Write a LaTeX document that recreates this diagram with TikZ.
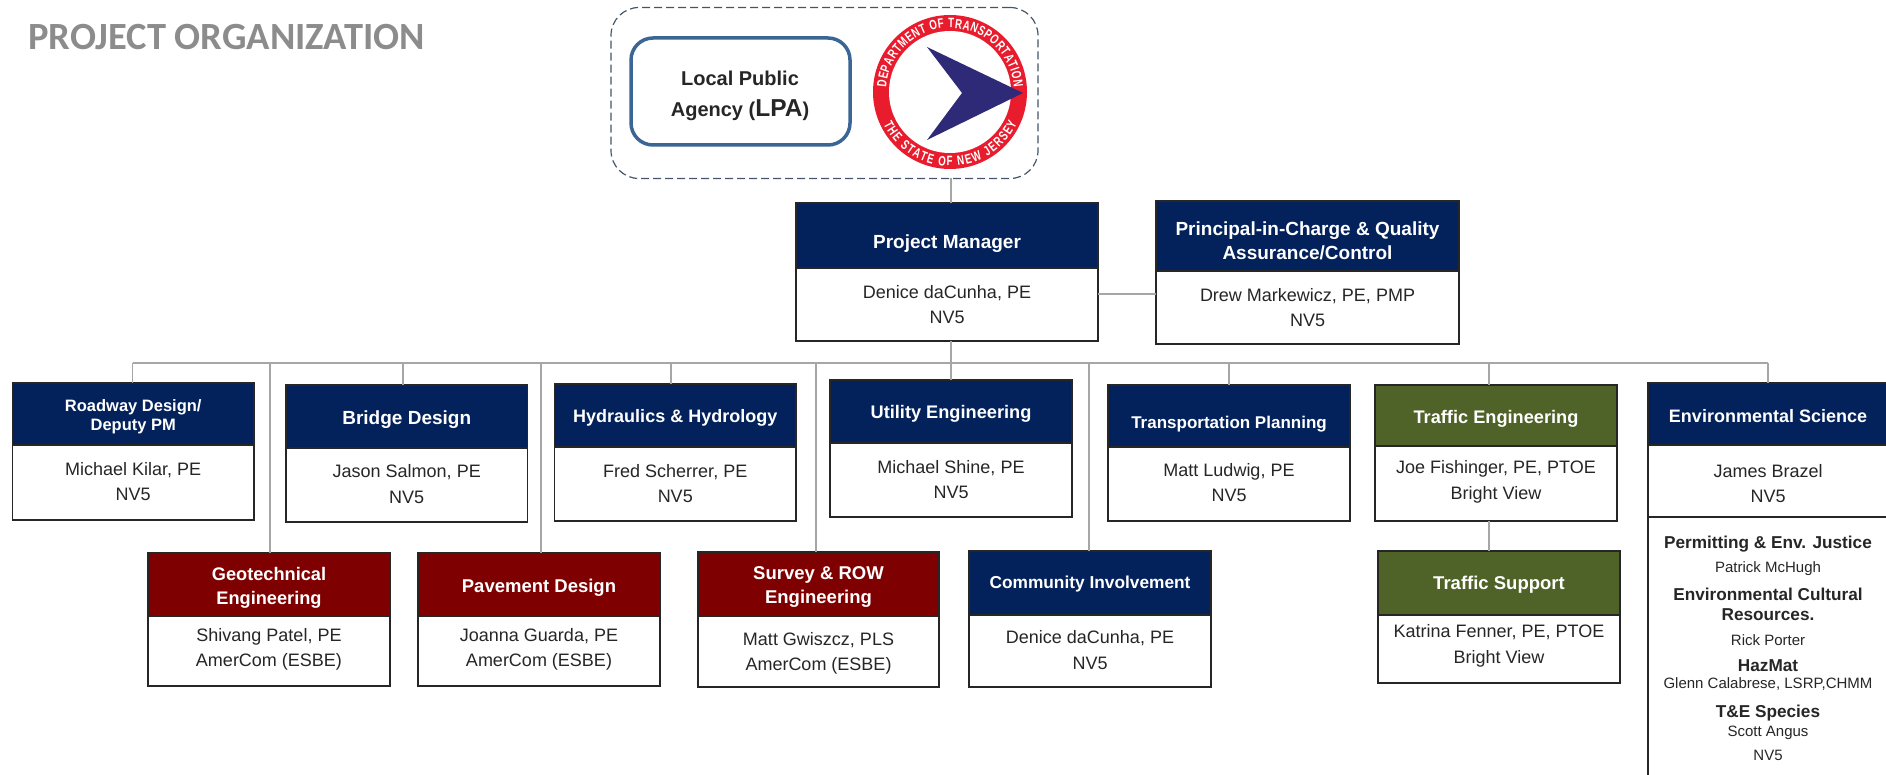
\documentclass[tikz,border=0pt]{standalone}
\usepackage{fontspec}
\setmainfont{Liberation Sans}
\newfontfamily\carlitofont{Carlito}
\newfontfamily\ringfont[FakeStretch=0.72]{Liberation Sans Bold}
\usetikzlibrary{decorations.text,calc}
\definecolor{navyh}{HTML}{03215B}
\definecolor{maroonh}{HTML}{7F0000}
\definecolor{oliveh}{HTML}{4F6228}
\definecolor{connc}{HTML}{A6A6A6}
\definecolor{edgec}{HTML}{262626}
\definecolor{bodyc}{HTML}{262626}
\definecolor{lpab}{HTML}{3A6594}
\definecolor{dashc}{HTML}{44546A}
\definecolor{ringr}{HTML}{E81C2D}
\definecolor{arrowb}{HTML}{2E2A78}
\tikzset{
  hdrbox/.style={draw=edgec,line width=1.1pt,fill=#1,inner sep=0pt,outer sep=0pt},
  bodybox/.style={draw=edgec,line width=1.1pt,fill=white,inner sep=0pt,outer sep=0pt},
  conn/.style={draw=connc,line width=1.5pt},
  ttl/.style={text=white,align=center,inner sep=0pt,font=\bfseries},
  bodytxt/.style={text=bodyc,align=center,inner sep=0pt},
  envb/.style={text=bodyc,inner sep=0pt,font=\bfseries\fontsize{17.2}{20}\selectfont},
  envr/.style={text=bodyc,inner sep=0pt,font=\fontsize{15}{18}\selectfont}
}
% name x0 x1 ytop ymid ybot colour
\newcommand{\orgbox}[7]{%
  \node[bodybox,minimum width={(#3-#2)*1pt},minimum height={(#6-#5)*1pt}] (#1-b) at ({(#2+#3)/2},{(#5+#6)/2}) {};
  \node[hdrbox=#7,minimum width={(#3-#2)*1pt},minimum height={(#5-#4)*1pt}] (#1-h) at ({(#2+#3)/2},{(#4+#5)/2}) {};
}
% name size lead y text
\newcommand{\orgttl}[5]{%
  \node[ttl,font=\bfseries\fontsize{#2}{#3}\selectfont] (#1-t) at (#1-h.center |- 0,#4) {#5};
}
% name y lead text
\newcommand{\orgtxt}[4]{%
  \node[bodytxt,font=\fontsize{18}{#3}\selectfont] (#1-n) at (#1-b.center |- 0,#2) {#4};
}
\begin{document}
\begin{tikzpicture}[x=1pt,y=-1pt]
\useasboundingbox (0,0) rectangle (1886,775);
\clip (0,0) rectangle (1886,775);
\node[anchor=west,inner sep=0pt,text=black!45,font=\carlitofont\bfseries\fontsize{38.5}{44}\selectfont] (pagetitle) at (28,37) {PROJECT ORGANIZATION};
% LPA group
\node[draw=dashc,line width=1.2pt,dash pattern=on 8pt off 4pt,rounded corners=28pt,minimum width=427pt,minimum height=171pt,inner sep=0pt,outer sep=0pt] (lpg) at (824.5,93) {};
\node[draw=lpab,line width=3.5pt,rounded corners=22pt,minimum width=219pt,minimum height=107pt,inner sep=0pt,outer sep=0pt] (lpa) at (740.5,91.5) {};
\node[align=center,text=bodyc,inner sep=0pt,font=\bfseries\fontsize{20}{31}\selectfont] (lpat) at (740,96) {Local Public\\Agency ({\fontsize{24.5}{31}\selectfont LPA})};
% logo
\begin{scope}[shift={(950,92)},y=1pt]
  \fill[ringr] (0,0) circle (77);
  \fill[white] (0,0) circle (61);
  \fill[arrowb] (-23,45) -- (73,-1) -- (-23,-48) -- (12,-1) -- cycle;
  \path[decorate,decoration={text along path,text align={fit to path},text={|\color{white}\ringfont\fontsize{13.5}{15}\selectfont|DEPARTMENT OF TRANSPORTATION}}] (176:64) arc[start angle=176,end angle=4,radius=64];
  \path[decorate,decoration={text along path,text align={fit to path},text={|\color{white}\ringfont\fontsize{13.5}{15}\selectfont|THE STATE OF NEW JERSEY}}] (206:74) arc[start angle=206,end angle=335,radius=74];
\end{scope}
% boxes
\orgbox{pm}{796}{1098}{203}{268}{341}{navyh}
\orgttl{pm}{19}{24}{244}{Project Manager}
\orgtxt{pm}{304.5}{25}{Denice daCunha, PE\\NV5}
\orgbox{pic}{1156}{1459}{201}{271}{344}{navyh}
\orgttl{pic}{19}{24}{240.5}{Principal-in-Charge \& Quality\\Assurance/Control}
\orgtxt{pic}{307.5}{25}{Drew Markewicz, PE, PMP\\NV5}
\orgbox{rd}{12.5}{254}{383}{445}{520}{navyh}
\orgttl{rd}{16.5}{19}{417}{Roadway Design/\\Deputy PM}
\orgtxt{rd}{482}{25}{Michael Kilar, PE\\NV5}
\orgbox{br}{286}{527.5}{385}{448}{522}{navyh}
\orgttl{br}{19}{24}{420}{Bridge Design}
\orgtxt{br}{484.5}{26}{Jason Salmon, PE\\NV5}
\orgbox{hy}{554.5}{796}{384}{447}{521}{navyh}
\orgttl{hy}{18}{24}{417.5}{Hydraulics \& Hydrology}
\orgtxt{hy}{483.5}{25}{Fred Scherrer, PE\\NV5}
\orgbox{ut}{830}{1072}{380}{443}{517}{navyh}
\orgttl{ut}{18.2}{24}{413.5}{Utility Engineering}
\orgtxt{ut}{480}{25}{Michael Shine, PE\\NV5}
\orgbox{tp}{1108}{1350}{385}{447}{521}{navyh}
\orgttl{tp}{17}{24}{424}{Transportation Planning}
\orgtxt{tp}{482.5}{25}{Matt Ludwig, PE\\NV5}
\orgbox{te}{1375}{1617}{385}{446}{521}{oliveh}
\orgttl{te}{18.2}{24}{418.5}{Traffic Engineering}
\orgtxt{te}{482}{26}{Joe Fishinger, PE, PTOE\\Bright View}
\orgbox{geo}{148}{390}{553}{616}{686}{maroonh}
\orgttl{geo}{18.2}{24}{588}{Geotechnical\\Engineering}
\orgtxt{geo}{649.5}{25}{Shivang Patel, PE\\AmerCom (ESBE)}
\orgbox{pav}{418}{660}{553}{616}{686}{maroonh}
\orgttl{pav}{18.5}{24}{587.5}{Pavement Design}
\orgtxt{pav}{649.5}{25}{Joanna Guarda, PE\\AmerCom (ESBE)}
\orgbox{sv}{698}{939}{552}{616}{687}{maroonh}
\orgttl{sv}{18.5}{24}{587}{Survey \& ROW\\Engineering}
\orgtxt{sv}{653.5}{25}{Matt Gwiszcz, PLS\\AmerCom (ESBE)}
\orgbox{ci}{969}{1211}{551}{615}{687}{navyh}
\orgttl{ci}{17.3}{24}{584.5}{Community Involvement}
\orgtxt{ci}{650.5}{26}{Denice daCunha, PE\\NV5}
\orgbox{ts}{1378}{1620}{551}{615}{683}{oliveh}
\orgttl{ts}{18.5}{24}{584.5}{Traffic Support}
\orgtxt{ts}{646}{26}{Katrina Fenner, PE, PTOE\\Bright View}
% environmental
\node[bodybox,minimum width=252pt,minimum height=280pt] (ex) at (1774,657) {};
\orgbox{en}{1648}{1900}{383}{445}{517}{navyh}
\node[ttl,font=\bfseries\fontsize{18}{24}\selectfont] (en-t) at (1768,416) {Environmental Science};
\node[bodytxt,font=\fontsize{18}{25}\selectfont] (en-n) at (1768,483.5) {James Brazel\\NV5};
\node[envb] (e1) at (1768,544) {Permitting \& Env. Justice};
\node[envr] (e2) at (1768,568.5) {Patrick McHugh};
\node[envb,align=center] (e3) at (1768,604.5) {Environmental Cultural\\Resources.};
\node[envr] (e4) at (1768,640) {Rick Porter};
\node[envb] (e5) at (1768,666) {HazMat};
\node[envr] (e6) at (1768,684) {Glenn Calabrese, LSRP,CHMM};
\node[envb] (e7) at (1768,713) {T\&E Species};
\node[envr] (e8) at (1768,732.5) {Scott Angus};
\node[envr] (e9) at (1768,755) {NV5};
% connectors
\coordinate (busL) at (132.5,363);
\coordinate (busR) at (1768,363);
\coordinate (trunk) at (951,363);
\coordinate (dgeo) at (270,363);
\coordinate (dbr) at (403,363);
\coordinate (dpav) at (541,363);
\coordinate (dhy) at (671,363);
\coordinate (dsv) at (816,363);
\coordinate (dci) at (1089,363);
\coordinate (dtp) at (1229,363);
\coordinate (dte) at (1489,363);
\coordinate (pmside) at (1098,294);
\draw[conn] (busL) -- (busR);
\draw[conn] (trunk |- lpg.south) -- (trunk |- pm-h.north);
\draw[conn] (trunk |- pm-b.south) -- (trunk |- ut-h.north);
\draw[conn] (pmside) -- (pmside -| pic-b.west);
\draw[conn] (busL) -- (busL |- rd-h.north);
\draw[conn] (dgeo) -- (dgeo |- geo-h.north);
\draw[conn] (dbr) -- (dbr |- br-h.north);
\draw[conn] (dpav) -- (dpav |- pav-h.north);
\draw[conn] (dhy) -- (dhy |- hy-h.north);
\draw[conn] (dsv) -- (dsv |- sv-h.north);
\draw[conn] (dci) -- (dci |- ci-h.north);
\draw[conn] (dtp) -- (dtp |- tp-h.north);
\draw[conn] (dte) -- (dte |- te-h.north);
\draw[conn] (dte |- te-b.south) -- (dte |- ts-h.north);
\draw[conn] (busR) -- (busR |- en-h.north);
\end{tikzpicture}
\end{document}
